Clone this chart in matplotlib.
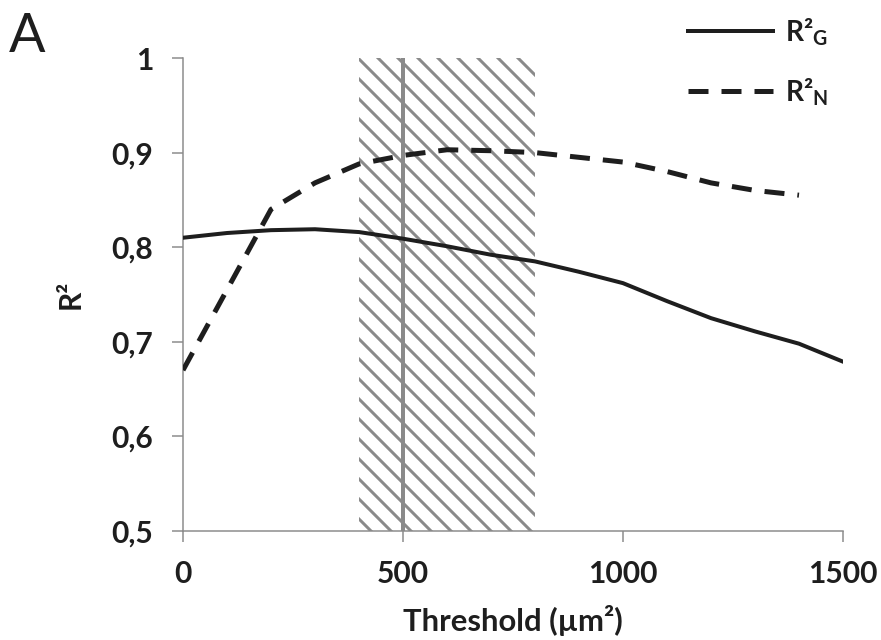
import matplotlib
matplotlib.use("Agg")
import matplotlib.pyplot as plt

# values
threshold_g = [0, 100, 200, 300, 400, 500, 600, 700, 800, 900, 1000, 1100, 1200, 1300, 1400, 1500]
r2_g = [0.810, 0.815, 0.818, 0.819, 0.816, 0.809, 0.801, 0.792, 0.785, 0.774, 0.762, 0.743, 0.725, 0.711, 0.698, 0.679]
threshold_n = [0, 100, 200, 300, 400, 500, 600, 700, 800, 900, 1000, 1100, 1200, 1300, 1400]
r2_n = [0.670, 0.755, 0.840, 0.868, 0.888, 0.897, 0.903, 0.902, 0.900, 0.895, 0.890, 0.880, 0.868, 0.860, 0.855]

band_start, band_end = 400, 800
chosen_threshold = 500

x_ticks = [0, 500, 1000, 1500]
y_ticks = [0.5, 0.6, 0.7, 0.8, 0.9, 1.0]
y_tick_labels = ["0,5", "0,6", "0,7", "0,8", "0,9", "1"]

DPI = 60
W, H = 881, 640


def px(v):
    # pixel size -> points at this dpi
    return v * 72 / DPI


GRAY = "#8a8a8a"
INK = "#1e1e1e"

plt.rcParams["font.family"] = ["Lato", "DejaVu Sans"]
plt.rcParams["mathtext.fontset"] = "custom"
plt.rcParams["mathtext.rm"] = "Lato:bold"
plt.rcParams["mathtext.bf"] = "Lato:bold"
plt.rcParams["hatch.linewidth"] = px(3)

fig = plt.figure(figsize=(W / DPI, H / DPI), dpi=DPI)
ax = fig.add_axes([183 / W, 1 - 531 / H, 660 / W, 473 / H])

ax.axvspan(band_start, band_end, facecolor="white", edgecolor=GRAY,
           linewidth=0, hatch="\\", zorder=1)
ax.axvline(chosen_threshold, color=GRAY, lw=px(4), zorder=2)

ax.plot(threshold_g, r2_g, color=INK, lw=px(4), label="R²$_\\mathrm{G}$", zorder=3)
ax.plot(threshold_n, r2_n, color=INK, lw=px(5), linestyle=(0, (4, 2.6)),
        dash_capstyle="butt", label="R²$_\\mathrm{N}$", zorder=3)

ax.set_xlim(0, 1500)
ax.set_ylim(0.5, 1.0)
ax.set_xticks(x_ticks)
ax.set_yticks(y_ticks)
ax.set_yticklabels(y_tick_labels)

for side in ["top", "right"]:
    ax.spines[side].set_visible(False)
for side in ["left", "bottom"]:
    ax.spines[side].set_color(GRAY)
    ax.spines[side].set_linewidth(px(1.5))

ax.tick_params(axis="both", direction="out", color=GRAY, width=px(1.5),
               length=px(11), labelsize=px(30), labelcolor=INK)
ax.tick_params(axis="x", pad=px(18))
ax.tick_params(axis="y", pad=px(19))
for lbl in ax.get_xticklabels() + ax.get_yticklabels():
    lbl.set_fontweight("bold")

ax.set_xlabel("Threshold (µm²)", fontsize=px(31), fontweight="bold", color=INK, va="center")
ax.xaxis.set_label_coords(0.5, (531 - 621) / 473)
ax.set_ylabel("R²", fontsize=px(30), fontweight="bold", color=INK, va="center")
ax.yaxis.set_label_coords((71 - 183) / 660, 0.5)

fig.text(9 / W, 1 - 52 / H, "A", fontsize=px(54), color=INK, va="baseline", ha="left")

ax.legend(loc="upper left", bbox_to_anchor=(688 / W, 1 - 16 / H), bbox_transform=fig.transFigure,
          frameon=False, prop={"weight": "bold", "size": px(28)}, handlelength=3.05,
          handletextpad=0.4, borderpad=0, borderaxespad=0, labelspacing=1.0, labelcolor=INK)

fig.savefig("out.png", dpi=DPI)
